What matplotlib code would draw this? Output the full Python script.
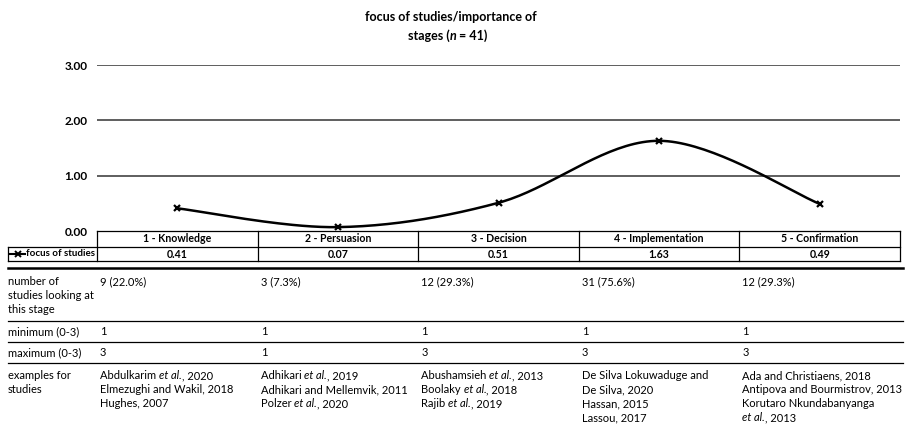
import numpy as np
import matplotlib.pyplot as plt
from matplotlib.lines import Line2D
from matplotlib import transforms

plt.rcParams['font.family'] = ['Lato', 'DejaVu Sans']

# data
stages = ['1 - Knowledge', '2 - Persuasion', '3 - Decision', '4 - Implementation', '5 - Confirmation']
focus = [0.41, 0.07, 0.51, 1.63, 0.49]
n_total = 41
n_studies = [9, 3, 12, 31, 12]
minimum = [1, 1, 1, 1, 1]
maximum = [3, 1, 3, 3, 3]
examples = [
    ['Abdulkarim *et al.*, 2020', 'Elmezughi and Wakil, 2018', 'Hughes, 2007'],
    ['Adhikari *et al.*, 2019', 'Adhikari and Mellemvik, 2011', 'Polzer *et al.*, 2020'],
    ['Abushamsieh *et al.*, 2013', 'Boolaky *et al.*, 2018', 'Rajib *et al.*, 2019'],
    ['De Silva Lokuwaduge and', 'De Silva, 2020', 'Hassan, 2015', 'Lassou, 2017'],
    ['Ada and Christiaens, 2018', 'Antipova and Bourmistrov, 2013', 'Korutaro Nkundabanyanga', '*et al.*, 2013'],
]
row_labels = ['number of\nstudies looking at\nthis stage', 'minimum (0-3)', 'maximum (0-3)', 'examples for\nstudies']

W, H = 906, 425
fig = plt.figure(figsize=(W / 100, H / 100), dpi=100)
renderer = fig.canvas.get_renderer()


def fx(px):
    return px / W


def fy(py):
    return 1 - py / H


def rich_line(x0, y0, line, trans, **kw):
    # text with *italic* parts, drawn piece by piece on one baseline
    off = 0
    for j, p in enumerate(line.split('*')):
        if p == '':
            continue
        style = 'italic' if j % 2 == 1 else 'normal'
        tt = transforms.offset_copy(trans, fig=fig, x=off, y=0, units='dots')
        t = fig.text(x0, y0, p, transform=tt, ha='left', va='baseline', fontstyle=style, **kw)
        off += t.get_window_extent(renderer).width


ax = fig.add_axes([fx(97), fy(231), fx(900) - fx(97), fy(65) - fy(231)])
x = np.arange(len(stages))
ax.set_xlim(-0.5, len(stages) - 0.5)
ax.set_ylim(0, 3)
ax.set_yticks([0, 1, 2, 3])
ax.set_yticklabels(['%.2f' % v for v in [0, 1, 2, 3]], fontweight='bold', fontsize=8.5)
ax.tick_params(axis='y', length=0, pad=7)
ax.set_xticks([])
for s in ax.spines.values():
    s.set_visible(False)
for v in [1, 2, 3]:
    ax.axhline(v, color='#333333', lw=1.1, zorder=1)

# smooth line (catmull-rom through the points)
xs, ys = [], []
px = np.concatenate([[x[0]], x, [x[-1]]]).astype(float)
py = np.concatenate([[focus[0]], focus, [focus[-1]]])
for i in range(1, len(px) - 2):
    t = np.linspace(0, 1, 40)
    for arr, out in ((px, xs), (py, ys)):
        p0, p1, p2, p3 = arr[i - 1], arr[i], arr[i + 1], arr[i + 2]
        out.extend(0.5 * ((2 * p1) + (-p0 + p2) * t + (2 * p0 - 5 * p1 + 4 * p2 - p3) * t ** 2
                          + (-p0 + 3 * p1 - 3 * p2 + p3) * t ** 3))
ax.plot(xs, ys, color='black', lw=1.8, zorder=3, clip_on=False)
ax.plot(x, focus, ls='none', marker='x', color='black', ms=5, mew=1.6, zorder=4, clip_on=False)

# title
fig.text(fx(451), fy(17), 'focus of studies/importance of', ha='center', va='center',
         fontweight='bold', fontsize=9)
rich_line(fx(408), fy(40), 'stages (*n* = 41)', fig.transFigure, fontweight='bold', fontsize=9)

# data table under the chart
tr = transforms.blended_transform_factory(ax.transData, fig.transFigure)
lc = 'black'
lw = 0.9
edges = np.arange(len(stages) + 1) - 0.5
fig.add_artist(Line2D([edges[0], edges[-1]], [fy(231), fy(231)], transform=tr, color=lc, lw=lw))
for yy in [247, 261]:
    fig.add_artist(Line2D([fx(8), fx(900)], [fy(yy), fy(yy)], color=lc, lw=lw))
for e in edges:
    fig.add_artist(Line2D([e, e], [fy(231), fy(261)], transform=tr, color=lc, lw=lw))
fig.add_artist(Line2D([fx(8), fx(8)], [fy(247), fy(261)], color=lc, lw=lw))
for i in range(len(stages)):
    fig.text(x[i], fy(239), stages[i], transform=tr, ha='center', va='center',
             fontweight='bold', fontsize=7.6)
    fig.text(x[i], fy(254), '%.2f' % focus[i], transform=tr, ha='center', va='center',
             fontweight='bold', fontsize=7.6)
fig.add_artist(Line2D([fx(10), fx(25)], [fy(254), fy(254)], color='black', lw=1.5))
fig.add_artist(Line2D([fx(17.5)], [fy(254)], color='black', marker='x', ms=4, mew=1.4))
fig.text(fx(26), fy(254), 'focus of studies', ha='left', va='center', fontweight='bold', fontsize=7)

# lower table
fig.add_artist(Line2D([fx(8), fx(903)], [fy(268), fy(268)], color=lc, lw=1.8))
for yy in [321, 342, 363]:
    fig.add_artist(Line2D([fx(8), fx(903)], [fy(yy), fy(yy)], color=lc, lw=lw))

fs = 8
lh = 14
row_base = [285, 335, 356, 379]
for r, lab in enumerate(row_labels):
    for k, line in enumerate(lab.split('\n')):
        fig.text(fx(8), fy(row_base[r] + k * lh), line, ha='left', va='baseline', fontsize=fs)

tr_off = transforms.offset_copy(tr, fig=fig, x=3, y=0, units='dots')
for i in range(len(stages)):
    x0 = edges[i]
    pct = 100.0 * n_studies[i] / n_total
    fig.text(x0, fy(row_base[0]), '%d (%.1f%%)' % (n_studies[i], pct), transform=tr_off,
             ha='left', va='baseline', fontsize=fs)
    fig.text(x0, fy(row_base[1]), str(minimum[i]), transform=tr_off,
             ha='left', va='baseline', fontsize=fs)
    fig.text(x0, fy(row_base[2]), str(maximum[i]), transform=tr_off,
             ha='left', va='baseline', fontsize=fs)
    for k, line in enumerate(examples[i]):
        rich_line(x0, fy(row_base[3] + k * lh), line, tr_off, fontsize=fs)

fig.savefig('out.png', dpi=100)
